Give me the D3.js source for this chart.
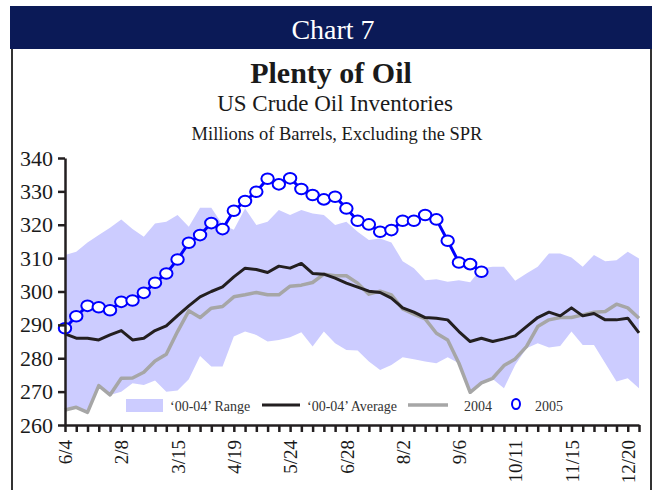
<!DOCTYPE html>
<html>
<head>
<meta charset="utf-8">
<script src="https://cdn.jsdelivr.net/npm/d3@7"></script>
<style>
  body { margin: 0; background: #fff; }
  svg { display: block; font-family: "Liberation Serif", "DejaVu Serif", serif; }
</style>
</head>
<body>
<div id="chart"></div>
<script>
// weekly data, one value per week starting at 6/4 label
const weekLabels = ["6/4", "2/8", "3/15", "4/19", "5/24", "6/28", "8/2", "9/6", "10/11", "11/15", "12/20"];
const yTicks = [260, 270, 280, 290, 300, 310, 320, 330, 340];

const rangeHigh = [310.9, 311.9, 314.7, 316.9, 319.1, 321.6, 318.7, 316.4, 320.4, 320.9,
                   322.9, 319.4, 325.1, 325.1, 320.0, 318.5, 324.9, 319.9, 320.9, 324.4,
                   322.9, 324.4, 323.4, 322.9, 319.9, 320.9, 317.9, 315.4, 315.9, 314.7,
                   309.1, 307.0, 303.4, 303.7, 302.9, 303.4, 302.8, 307.0, 307.4, 307.4,
                   303.2, 305.4, 307.4, 311.4, 311.4, 310.2, 307.4, 310.9, 309.1, 309.4,
                   311.9, 309.9];
const rangeLow = [264.5, 265.3, 263.8, 271.8, 269.0, 270.0, 272.5, 272.0, 273.3, 270.0,
                  270.3, 273.7, 280.7, 277.5, 277.5, 286.5, 288.0, 287.0, 285.0, 285.5,
                  286.3, 287.8, 283.5, 288.0, 284.5, 282.5, 282.3, 279.0, 276.5, 278.0,
                  280.3, 279.7, 279.0, 278.5, 280.3, 278.5, 269.8, 272.5, 273.8, 271.0,
                  278.0, 283.0, 284.5, 283.2, 283.7, 288.0, 284.0, 284.0, 278.5, 273.0,
                  274.0, 271.0];
const avg0004 = [287.3, 286.0, 286.0, 285.5, 287.0, 288.3, 285.5, 286.0, 288.3, 289.7,
                 292.8, 295.7, 298.4, 300.0, 301.4, 304.4, 307.0, 306.6, 305.7, 307.6,
                 307.0, 308.4, 305.4, 305.2, 304.0, 302.5, 301.3, 300.1, 299.7, 298.0,
                 295.1, 293.8, 292.2, 292.0, 291.5, 288.0, 285.0, 286.0, 285.0, 285.8,
                 286.7, 289.5, 292.2, 293.8, 292.7, 295.1, 292.7, 293.4, 291.5, 291.5,
                 292.0, 287.6];
const y2004 = [264.5, 265.3, 263.8, 271.8, 269.0, 274.0, 274.1, 275.8, 279.2, 281.2,
               288.0, 294.2, 292.2, 295.0, 295.5, 298.4, 299.0, 299.7, 299.0, 299.0,
               301.6, 301.9, 302.7, 305.2, 304.7, 304.7, 302.5, 299.2, 300.1, 299.0,
               294.8, 293.2, 291.8, 287.5, 285.5, 278.5, 269.8, 272.6, 274.0, 277.8,
               279.8, 283.5, 289.5, 291.5, 292.2, 292.2, 293.0, 293.8, 294.0, 296.2,
               295.1, 292.0];
const y2005 = [289.0, 292.6, 295.7, 295.3, 294.4, 296.9, 297.3, 299.6, 302.6, 305.4,
               309.6, 314.6, 316.9, 320.5, 318.7, 324.2, 327.1, 329.9, 333.8, 332.1,
               333.9, 330.7, 328.9, 327.6, 328.4, 324.9, 321.2, 320.1, 317.9, 318.4,
               321.2, 321.2, 322.9, 321.6, 315.2, 308.7, 308.2, 305.9];

const W = 659, H = 490;
const svg = d3.select("#chart").append("svg")
    .attr("width", W)
    .attr("height", H);

// header bar and frame
svg.append("rect")
    .attr("x", 10).attr("y", 6)
    .attr("width", 642).attr("height", 43)
    .attr("fill", "#0b1a57");
svg.append("text")
    .attr("x", 333).attr("y", 39)
    .attr("text-anchor", "middle")
    .attr("fill", "#fff")
    .style("font-size", "28px")
    .text("Chart 7");
svg.append("line").attr("x1", 12).attr("x2", 12).attr("y1", 49).attr("y2", H)
    .attr("stroke", "#333").attr("stroke-width", 2);
svg.append("line").attr("x1", 651).attr("x2", 651).attr("y1", 49).attr("y2", H)
    .attr("stroke", "#333").attr("stroke-width", 2);

svg.append("text")
    .attr("x", 331).attr("y", 83)
    .attr("text-anchor", "middle")
    .attr("fill", "#1a1a1a")
    .style("font-size", "30px")
    .style("font-weight", "bold")
    .text("Plenty of Oil");
svg.append("text")
    .attr("x", 335).attr("y", 111)
    .attr("text-anchor", "middle")
    .attr("fill", "#1a1a1a")
    .style("font-size", "23px")
    .text("US Crude Oil Inventories");
svg.append("text")
    .attr("x", 337).attr("y", 140)
    .attr("text-anchor", "middle")
    .attr("fill", "#1a1a1a")
    .style("font-size", "18.5px")
    .text("Millions of Barrels, Excluding the SPR");

// scales
const x = d3.scaleLinear().domain([0, 51]).range([65, 639]);
const y = d3.scaleLinear().domain([260, 340]).range([425, 158]);

const idx = d3.range(52);

// range band
const area = d3.area()
    .x(function(i) { return x(i); })
    .y0(function(i) { return y(rangeLow[i]); })
    .y1(function(i) { return y(rangeHigh[i]); });
svg.append("path")
    .datum(idx)
    .attr("d", area)
    .attr("fill", "#ccccff");

const line = d3.line()
    .x(function(d, i) { return x(i); })
    .y(function(d) { return y(d); });

svg.append("path")
    .datum(y2004)
    .attr("d", line)
    .attr("fill", "none")
    .attr("stroke", "#a6a6a6")
    .attr("stroke-width", 3.5)
    .attr("stroke-linejoin", "round");

svg.append("path")
    .datum(avg0004)
    .attr("d", line)
    .attr("fill", "none")
    .attr("stroke", "#231f20")
    .attr("stroke-width", 3)
    .attr("stroke-linejoin", "round");

svg.append("path")
    .datum(y2005)
    .attr("d", line)
    .attr("fill", "none")
    .attr("stroke", "#0000ff")
    .attr("stroke-width", 3);

svg.selectAll("ellipse.p2005")
    .data(y2005)
    .enter().append("ellipse")
    .attr("class", "p2005")
    .attr("cx", function(d, i) { return x(i); })
    .attr("cy", function(d) { return y(d); })
    .attr("rx", 6.2)
    .attr("ry", 5.3)
    .attr("fill", "#fff")
    .attr("stroke", "#0000ff")
    .attr("stroke-width", 2);

// axes
const yAxis = svg.append("g")
    .attr("transform", "translate(65,0)")
    .call(d3.axisLeft(y).tickValues(yTicks).tickSize(7).tickSizeOuter(0).tickPadding(5));
yAxis.selectAll("text")
    .style("font-size", "22px")
    .style("font-family", "Liberation Serif, serif")
    .attr("fill", "#1a1a1a");

const xAxis = svg.append("g")
    .attr("transform", "translate(0,425)")
    .call(d3.axisBottom(x).tickValues(idx).tickSize(7).tickSizeOuter(0)
        .tickFormat(function(i) { return i % 5 === 0 ? weekLabels[i / 5] : ""; }));
xAxis.selectAll("text")
    .style("font-size", "19px")
    .style("font-family", "Liberation Serif, serif")
    .attr("fill", "#1a1a1a")
    .attr("text-anchor", "end")
    .attr("transform", "rotate(-90)")
    .attr("x", -15)
    .attr("y", 0)
    .attr("dy", "0.35em");

svg.selectAll(".domain, .tick line")
    .attr("stroke", "#231f20")
    .attr("stroke-width", 2.5);

// legend
const lg = svg.append("g").style("font-size", "14px").attr("fill", "#333");
lg.append("rect").attr("x", 126).attr("y", 399).attr("width", 37).attr("height", 13).attr("fill", "#ccccff");
lg.append("text").attr("x", 170).attr("y", 411).text("‘00-04’ Range");
lg.append("line").attr("x1", 262).attr("x2", 300).attr("y1", 405).attr("y2", 405)
    .attr("stroke", "#231f20").attr("stroke-width", 3);
lg.append("text").attr("x", 307).attr("y", 411).text("‘00-04’ Average");
lg.append("line").attr("x1", 408).attr("x2", 448).attr("y1", 405).attr("y2", 405)
    .attr("stroke", "#a6a6a6").attr("stroke-width", 3.5);
lg.append("text").attr("x", 464).attr("y", 411).text("2004");
lg.append("ellipse").attr("cx", 516).attr("cy", 404).attr("rx", 4).attr("ry", 5)
    .attr("fill", "#fff").attr("stroke", "#0000ff").attr("stroke-width", 2);
lg.append("text").attr("x", 535).attr("y", 411).text("2005");
</script>
</body>
</html>
